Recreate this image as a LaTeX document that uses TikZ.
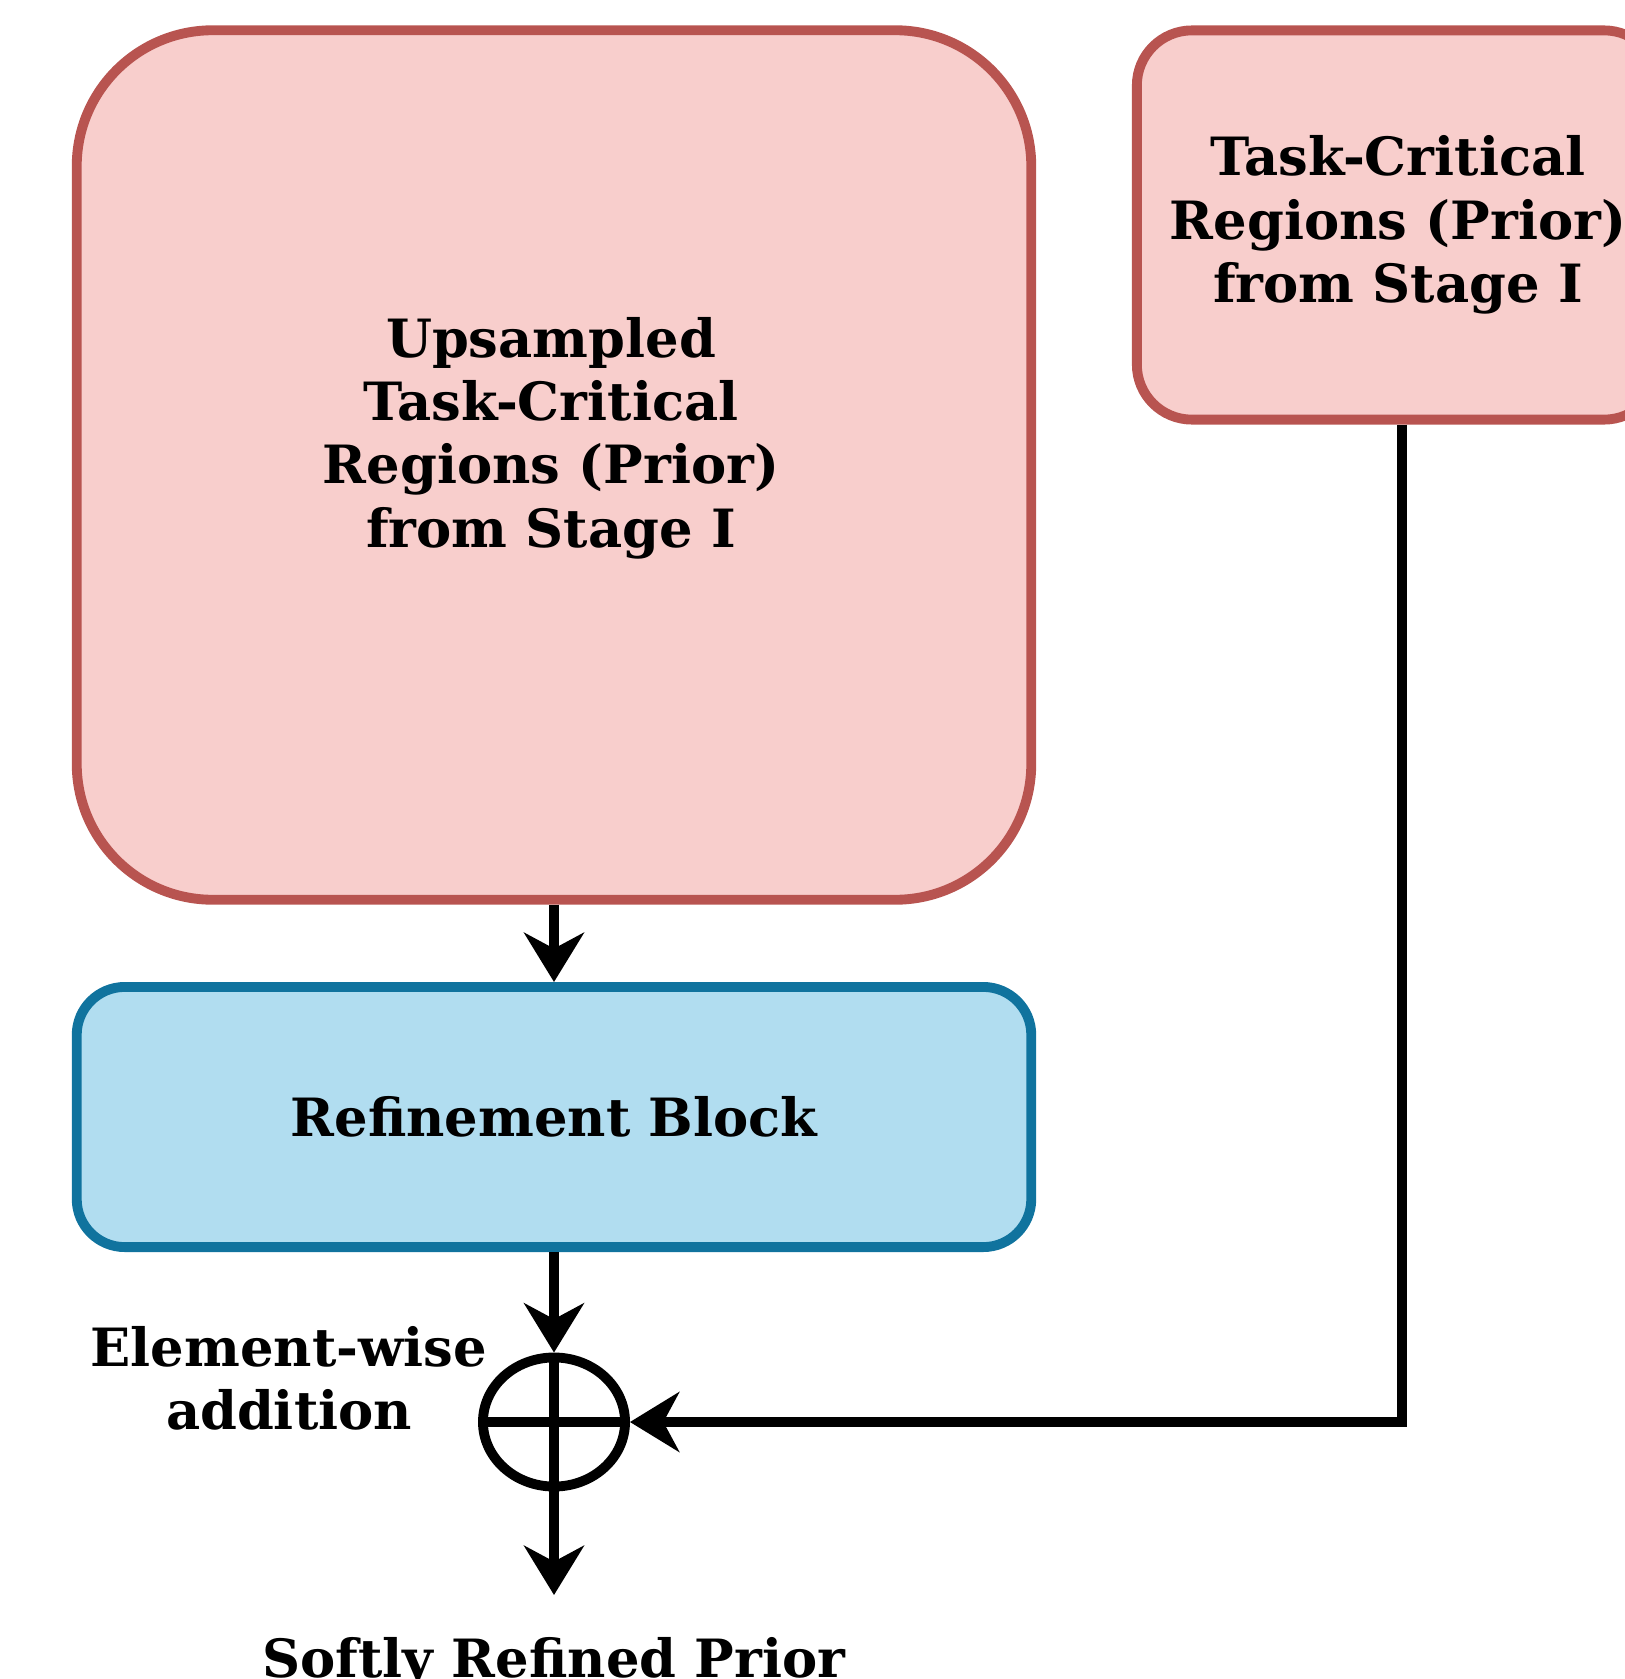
\documentclass[tikz,border=0pt]{standalone}
\usepackage{fontspec}
\setmainfont{DejaVu Serif}
\usepackage{xcolor}
\usepackage{tikz}
\usetikzlibrary{positioning, calc, arrows.meta, shapes.geometric}

\definecolor{priorfill}{HTML}{F8CECC}
\definecolor{priordraw}{HTML}{B85450}
\definecolor{refinefill}{HTML}{B1DDF0}
\definecolor{refinedraw}{HTML}{10739E}

\begin{document}
\begin{tikzpicture}[x=0.01cm, y=-0.01cm,
        font=\fontsize{15}{18}\selectfont\bfseries,
        priorbox/.style={draw=priordraw, fill=priorfill, line width=2.8pt, align=center},
        refinebox/.style={draw=refinedraw, fill=refinefill, line width=2.8pt, rounded corners=0.48cm, align=center},
        flow/.style={line width=2.8pt, -{Stealth[length=14pt, width=17pt, inset=4.5pt]}}]

        \useasboundingbox (0,0) rectangle (1624,1679);

        % Prior boxes
        \node[priorbox, rounded corners=1.36cm, minimum width=9.54cm, minimum height=8.69cm] (up) at (554,465) {};
        \node[align=center] (uptext) at (551,438) {Upsampled\\Task-Critical\\Regions (Prior)\\from Stage I};
        \node[priorbox, rounded corners=0.55cm, minimum width=5.22cm, minimum height=3.89cm] (prior) at (1398,225)
                {Task-Critical\\Regions (Prior)\\from Stage I};

        % Refinement block
        \node[refinebox, minimum width=9.54cm, minimum height=2.6cm] (refine) at (554,1117) {Refinement Block};

        % Element-wise addition
        \node[ellipse, draw, line width=2.8pt, minimum width=1.42cm, minimum height=1.29cm, inner sep=0pt] (sum) at (554,1422) {};
        \draw[line width=2.8pt] (sum.west) -- (sum.east);
        \draw[line width=2.8pt] (sum.north) -- (sum.south);
        \node[align=center] (sumlabel) at (289,1378) {Element-wise\\addition};

        % Output
        \coordinate (out) at (554,1595);
        \node[anchor=base] (result) at (554,1677) {Softly Refined Prior};

        % Connectors
        \draw[flow] (up) -- (refine);
        \draw[flow] (refine) -- (sum);
        \draw[flow] ([xshift=0.04cm]prior.south) |- (sum.east);
        \draw[flow] (sum.south) -- (out);
  \end{tikzpicture}
\end{document}
